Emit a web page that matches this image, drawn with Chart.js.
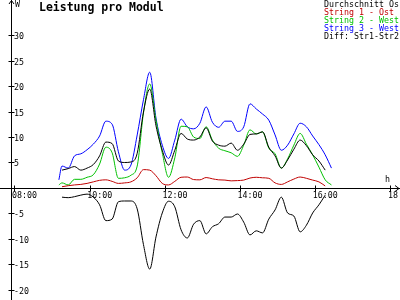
<!DOCTYPE html>
<html>
<head>
<meta charset="utf-8">
<script src="https://cdn.jsdelivr.net/npm/chart.js@4/dist/chart.umd.min.js"></script>
<style>
  html, body { margin: 0; padding: 0; background: #fff; }
  canvas { display: block; }
</style>
</head>
<body>
<canvas id="chart" width="400" height="300"></canvas>
<script>
// sample times (10 min steps, first one a bit shorter)
var times = ['09:10', '09:15', '09:25', '09:35', '09:45', '09:55', '10:05', '10:15', '10:25', '10:35',
             '10:45', '10:55', '11:05', '11:15', '11:25', '11:35', '11:45', '11:55', '12:05', '12:15',
             '12:25', '12:35', '12:45', '12:55', '13:05', '13:15', '13:25', '13:35', '13:45', '13:55',
             '14:05', '14:15', '14:25', '14:35', '14:45', '14:55', '15:05', '15:15', '15:25', '15:35',
             '15:45', '15:55', '16:05', '16:15', '16:25'];

var average = [null, 3.6, 3.9, 4.3, 3.6, 4.0, 4.7, 6.4, 9.1, 8.8,
               5.4, 5.1, 5.2, 6.9, 15.0, 19.5, 12.3, 7.5, 4.6, 7.5,
               10.8, 9.7, 9.5, 10.1, 11.9, 9.3, 8.5, 8.3, 8.9, 7.5,
               8.7, 10.6, 10.7, 11.1, 8.1, 6.4, 4.0, 5.6, 7.7, 9.5,
               8.4, 6.6, 5.4, 3.6, null];
var string1 = [null, 0.35, 0.55, 0.7, 0.8, 1.0, 1.3, 1.6, 1.7, 1.4,
               1.0, 1.1, 1.3, 2.1, 3.7, 3.6, 2.5, 1.0, 0.7, 1.4,
               2.2, 2.25, 1.75, 1.7, 2.15, 1.9, 1.7, 1.65, 1.5, 1.55,
               1.65, 2.05, 2.2, 2.1, 2.0, 1.1, 0.8, 1.3, 1.85, 2.25,
               2.0, 1.65, 1.3, 0.5, null];
var string2 = [0.7, 1.1, 0.7, 1.8, 1.8, 2.2, 2.7, 4.8, 8.1, 7.0,
               2.0, 2.1, 2.6, 4.4, 14.8, 20.5, 13.4, 7.0, 2.2, 6.0,
               12.2, 12.1, 10.1, 9.8, 12.1, 9.5, 7.9, 7.4, 7.0, 6.3,
               8.5, 11.5, 10.7, 11.1, 7.9, 6.8, 4.0, 5.8, 8.5, 10.8,
               8.7, 6.6, 4.2, 1.7, 0.7];
var string3 = [1.7, 4.4, 4.0, 6.4, 6.8, 7.6, 8.7, 10.3, 13.2, 12.6,
               7.2, 3.6, 4.6, 10.5, 17.4, 22.8, 13.8, 8.5, 5.9, 9.5,
               13.6, 12.1, 11.7, 12.8, 16.0, 13.0, 12.0, 13.2, 13.2, 11.2,
               12.1, 16.6, 15.6, 14.6, 13.4, 10.5, 7.5, 8.5, 10.7, 12.8,
               12.1, 10.3, 8.6, 6.6, 4.0];
var diff = [null, -1.7, -1.8, -1.6, -1.3, -1.1, -1.7, -3.2, -6.3, -6.0,
            -2.6, -2.45, -2.45, -4.0, -11.0, -15.8, -9.5, -4.8, -2.5, -3.6,
            -8.1, -9.7, -7.0, -6.3, -8.9, -7.5, -6.9, -5.6, -5.6, -5.0,
            -6.6, -9.1, -8.3, -8.7, -6.0, -4.2, -1.7, -4.8, -5.4, -8.5,
            -7.2, -4.8, -3.2, -1.3, null];

var xTickLabels = ['08:00', '10:00', '12:00', '14:00', '16:00', '18:00'];
var yTickLabels = [30, 25, 20, 15, 10, 5, -5, -10, -15, -20];

var labels = ['Durchschnitt Os', 'String 1 - Ost', 'String 2 - West', 'String 3 - West', 'Diff: Str1-Str2'];
var colors = ['#000000', '#c00000', '#00c000', '#0000ff', '#000000'];

var MONO = '"DejaVu Sans Mono", "Liberation Mono", monospace';
var Y_AXIS_AT = 7.907;   // hour value where the vertical axis sits

function toHours(s) {
  var p = s.split(':');
  return parseInt(p[0], 10) + parseInt(p[1], 10) / 60;
}
function points(values) {
  return times.map(function(t, i) { return {x: toHours(t), y: values[i]}; });
}

var axesPlugin = {
  id: 'axes',
  beforeDatasetsDraw: function(chart) {
    var ctx = chart.ctx, xs = chart.scales.x, ys = chart.scales.y;
    var ax = Math.floor(xs.getPixelForValue(Y_AXIS_AT)) + 0.5;
    var ay = Math.floor(ys.getPixelForValue(0)) + 0.5;
    var area = chart.chartArea;
    ctx.save();
    ctx.strokeStyle = '#000';
    ctx.lineWidth = 1;
    ctx.beginPath();
    // axis lines
    ctx.moveTo(area.left, ay); ctx.lineTo(area.right, ay);
    ctx.moveTo(ax, area.top); ctx.lineTo(ax, area.bottom);
    // arrows
    ctx.moveTo(ax - 2.5, 4); ctx.lineTo(ax, 0.5); ctx.lineTo(ax + 2.5, 4);
    ctx.moveTo(area.right - 5, ay - 3); ctx.lineTo(area.right - 1, ay); ctx.lineTo(area.right - 5, ay + 3);
    // tick marks
    xTickLabels.forEach(function(l) {
      var px = Math.floor(xs.getPixelForValue(toHours(l))) + 0.5;
      ctx.moveTo(px, ay - 3); ctx.lineTo(px, ay + 3);
    });
    yTickLabels.forEach(function(v) {
      var py = Math.floor(ys.getPixelForValue(v)) + 0.5;
      ctx.moveTo(ax - 3, py); ctx.lineTo(ax + 3, py);
    });
    ctx.stroke();

    ctx.fillStyle = '#000';
    ctx.font = '8.3px ' + MONO;
    ctx.textAlign = 'left';
    ctx.textBaseline = 'alphabetic';
    xTickLabels.forEach(function(l) {
      var px = xs.getPixelForValue(toHours(l));
      ctx.fillText(l, px - 3, ay + 9);
    });
    yTickLabels.forEach(function(v) {
      var py = ys.getPixelForValue(v);
      ctx.fillText(String(v), ax + 2.5, py + 3.5);
    });
    ctx.fillText('W', ax + 3.5, 7);
    ctx.fillText('h', 385, ay - 6.5);

    // title
    ctx.font = 'bold 11.5px ' + MONO;
    ctx.fillText('Leistung pro Modul', 39, 11);

    // legend, coloured text only
    ctx.font = '8.3px ' + MONO;
    chart.data.datasets.forEach(function(ds, i) {
      ctx.fillStyle = ds.borderColor;
      ctx.fillText(ds.label, 324, 7 + i * 8);
    });
    ctx.restore();
  }
};

var datasets = [average, string1, string2, string3, diff].map(function(values, i) {
  return {
    label: labels[i],
    data: points(values),
    borderColor: colors[i],
    borderWidth: 1,
    pointRadius: 0,
    fill: false,
    cubicInterpolationMode: 'monotone'
  };
});

new Chart(document.getElementById('chart'), {
  type: 'line',
  data: { datasets: datasets },
  options: {
    responsive: false,
    devicePixelRatio: 1,
    animation: false,
    layout: { padding: 0 },
    scales: {
      x: { type: 'linear', display: false, min: 7.6011, max: 18.2394 },
      y: { type: 'linear', display: false, min: -21.863, max: 36.961 }
    },
    plugins: {
      legend: { display: false },
      title: { display: false },
      tooltip: { enabled: false }
    }
  },
  plugins: [axesPlugin]
});
</script>
</body>
</html>
